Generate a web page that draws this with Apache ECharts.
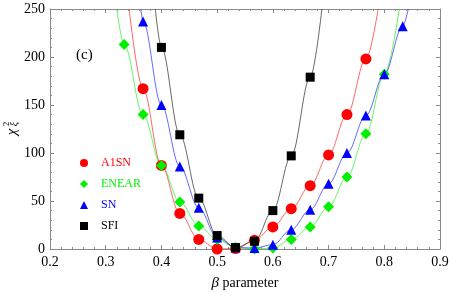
<!DOCTYPE html>
<html>
<head>
<meta charset="utf-8">
<script src="https://cdn.jsdelivr.net/npm/echarts@6/dist/echarts.min.js"></script>
<style>html,body{margin:0;padding:0;background:#fff}#c{width:471px;height:292px}</style>
</head>
<body>
<div id="c"></div>
<script>
// ---- data ----
const seriesNames = ['A1SN', 'ENEAR', 'SN', 'SFI'];
const xTicks = [0.2, 0.3, 0.4, 0.5, 0.6, 0.7, 0.8, 0.9];
const yTicks = [0, 50, 100, 150, 200, 250];

const a1snX = [0.367, 0.400, 0.433, 0.467, 0.500, 0.533, 0.567, 0.600, 0.633, 0.667, 0.700, 0.733, 0.767];
const a1snY = [167, 87, 37, 10, 0, 0.5, 9, 23, 42, 66, 98, 140, 198];

const enearX = [0.333, 0.367, 0.400, 0.433, 0.467, 0.500, 0.533, 0.567, 0.600, 0.633, 0.667, 0.700, 0.733, 0.767, 0.800];
const enearY = [213, 140, 87, 49, 24, 10, 1.5, 0, 1, 10, 23, 44, 75, 120, 182];

const snX = [0.367, 0.400, 0.433, 0.467, 0.500, 0.533, 0.567, 0.600, 0.633, 0.667, 0.700, 0.733, 0.767, 0.800, 0.833];
const snY = [237, 150, 86, 43, 12, 1.5, 1, 4.5, 20, 41, 68, 100, 139, 182, 232];

const sfiX = [0.400, 0.433, 0.467, 0.500, 0.533, 0.567, 0.600, 0.633, 0.667];
const sfiY = [210, 119, 53, 14, 1.5, 8, 40, 97, 179];

// where each fitted curve leaves the top of the frame (y = 250)
const a1snEdges = [0.342, 0.789];
const enearEdges = [0.320, 0.827];
const snEdges = [0.363, 0.843];
const sfiEdges = [0.389, 0.688];

// ---- chart ----
const serif = 'Liberation Serif';
const frame = '#8a8a8a';

function pts(xs, ys) { return xs.map((x, i) => [x, ys[i]]); }
function curve(xs, ys, edges) {
  return [[edges[0], yTicks[yTicks.length - 1]]].concat(pts(xs, ys), [[edges[1], yTicks[yTicks.length - 1]]]);
}

const cfg = [
  { name: 'A1SN', xs: a1snX, ys: a1snY, e: a1snEdges, color: '#ff0000', line: 'rgba(255,40,40,0.7)', symbol: 'circle', size: 11 },
  { name: 'ENEAR', xs: enearX, ys: enearY, e: enearEdges, color: '#00f000', line: 'rgba(40,240,40,0.7)', symbol: 'diamond', size: 11 },
  { name: 'SN', xs: snX, ys: snY, e: snEdges, color: '#0000ff', line: 'rgba(40,40,255,0.7)', symbol: 'triangle', size: 10 },
  { name: 'SFI', xs: sfiX, ys: sfiY, e: sfiEdges, color: '#000000', line: 'rgba(40,40,40,0.7)', symbol: 'rect', size: 9 }
];

const series = [];
cfg.forEach(c => {
  series.push({
    type: 'line', name: c.name + '_fit', data: curve(c.xs, c.ys, c.e),
    showSymbol: false, smooth: 0.35, smoothMonotone: 'x', clip: true,
    lineStyle: { color: c.line, width: 1 }, silent: true, z: 2
  });
});
cfg.forEach((c, i) => {
  series.push({
    type: 'scatter', name: c.name, data: pts(c.xs, c.ys),
    symbol: c.symbol, symbolSize: c.size, clip: false,
    itemStyle: { color: c.color, opacity: 1 }, z: 3 + i
  });
});

function axisBase(extra) {
  return Object.assign({
    type: 'value',
    axisLine: { show: true, onZero: false, lineStyle: { color: frame, width: 1 } },
    axisTick: { show: true, inside: true, length: 4, lineStyle: { color: frame } },
    minorTick: { show: true, splitNumber: 5, length: 2, lineStyle: { color: frame } },
    splitLine: { show: false },
    minorSplitLine: { show: false }
  }, extra);
}

const tickRich = { t: { fontFamily: serif, fontSize: 14, color: '#000' } };

const option = {
  animation: false,
  backgroundColor: '#ffffff',
  textStyle: { fontFamily: serif },
  grid: { left: 50, right: 31, top: 9, bottom: 43, containLabel: false, outerBoundsMode: 'none' },
  xAxis: [
    axisBase({
      min: xTicks[0], max: xTicks[xTicks.length - 1], interval: 0.1, position: 'bottom',
      axisLabel: { show: true, margin: 6, color: '#000', fontFamily: serif, fontSize: 14, rich: tickRich, formatter: v => '{t|' + v.toFixed(1) + '}' },
      name: '{b|β} parameter', nameLocation: 'middle', nameGap: 27,
      nameTextStyle: { color: '#000', fontFamily: serif, fontSize: 14, rich: { b: { fontStyle: 'italic', fontFamily: serif, fontSize: 15, color: '#000' } } }
    }),
    axisBase({ min: xTicks[0], max: xTicks[xTicks.length - 1], interval: 0.1, position: 'top', axisLabel: { show: false } })
  ],
  yAxis: [
    axisBase({
      min: yTicks[0], max: yTicks[yTicks.length - 1], interval: 50, position: 'left',
      axisLabel: { show: true, margin: 5, color: '#000', fontFamily: serif, fontSize: 14, rich: tickRich, formatter: v => '{t|' + v + '}' }
    }),
    axisBase({ min: yTicks[0], max: yTicks[yTicks.length - 1], interval: 50, position: 'right', axisLabel: { show: false } })
  ],
  legend: {
    show: true, orient: 'vertical', left: 75, top: 152, itemGap: 9,
    itemWidth: 8, itemHeight: 8,
    data: cfg.map(c => ({ name: c.name, textStyle: { color: c.color } })),
    textStyle: { fontFamily: serif, fontSize: 12, padding: [0, 0, 0, 8] },
    selectedMode: false
  },
  graphic: [
    { type: 'text', left: 76, top: 48, style: { text: '(c)', font: '15px "Liberation Serif"', fill: '#000' } },
    {
      type: 'group', x: 12, y: 132, rotation: Math.PI / 2,
      children: [
        { type: 'text', x: 0, y: 0, style: { text: 'χ', font: 'italic 15px "Liberation Serif"', fill: '#000', align: 'center', verticalAlign: 'middle' } },
        { type: 'text', x: 8, y: -5, style: { text: '2', font: '9px "Liberation Serif"', fill: '#000', align: 'center', verticalAlign: 'middle' } },
        { type: 'text', x: 8, y: 2, style: { text: 'ξ', font: 'italic 10px "Liberation Serif"', fill: '#000', align: 'center', verticalAlign: 'middle' } }
      ]
    }
  ],
  series: series
};

const chart = echarts.init(document.getElementById('c'), null, { renderer: 'canvas' });
chart.setOption(option);
</script>
</body>
</html>
